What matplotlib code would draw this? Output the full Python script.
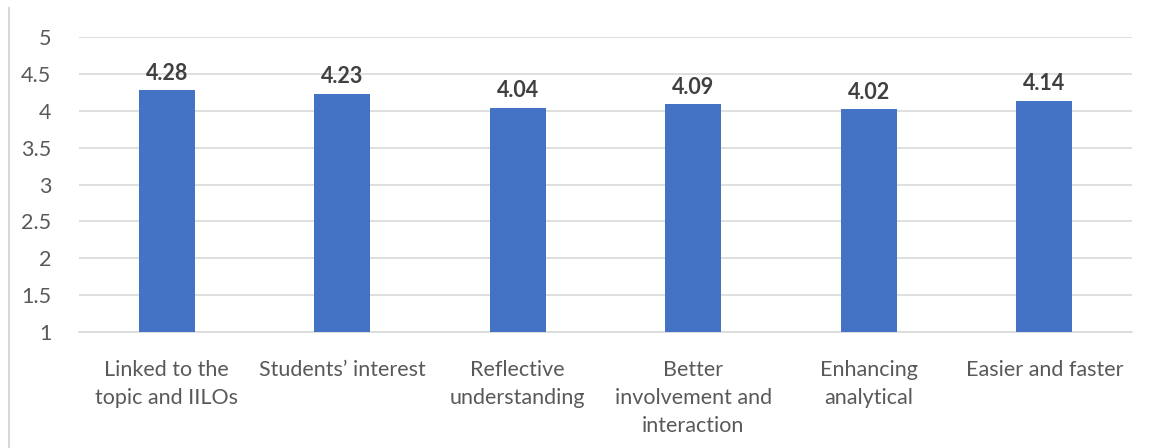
import numpy as np
import matplotlib
matplotlib.use("Agg")
import matplotlib.pyplot as plt
from matplotlib.lines import Line2D

categories = ["Linked to the\ntopic and IILOs", "Students\u2019 interest",
              "Reflective\nunderstanding", "Better\ninvolvement and\ninteraction",
              "Enhancing\nanalytical", "Easier and faster"]
scores = [4.28, 4.23, 4.04, 4.09, 4.02, 4.14]
y_ticks = [1, 1.5, 2, 2.5, 3, 3.5, 4, 4.5, 5]
y_tick_labels = ["1", "1.5", "2", "2.5", "3", "3.5", "4", "4.5", "5"]

plt.rcParams["font.family"] = ["Lato", "DejaVu Sans"]

fig = plt.figure(figsize=(11.51, 4.48), dpi=100)
ax = fig.add_axes([0.0686, 0.259, 0.9149, 0.658])

x = np.arange(len(categories))
ax.bar(x, np.array(scores) - 1, width=0.32, bottom=1, color="#4472c4", zorder=3)
for xi, v in zip(x, scores):
    ax.text(xi, v + 0.09, f"{v:.2f}", ha="center", va="bottom",
            fontsize=15.5, fontweight="bold", color="#404040")

ax.set_xlim(-0.5, len(categories) - 0.5)
ax.set_ylim(1, 5)
ax.set_yticks(y_ticks)
ax.set_yticklabels(y_tick_labels)
ax.set_xticks(x)
ax.set_xticklabels(categories, linespacing=1.5)
ax.tick_params(axis="both", length=0, labelsize=15.5, labelcolor="#595959")
ax.tick_params(axis="y", pad=20)
ax.tick_params(axis="x", pad=20)
ax.yaxis.grid(True, color="#d9d9d9", lw=1.2, zorder=0)
for s in ["top", "right", "left"]:
    ax.spines[s].set_visible(False)
ax.spines["bottom"].set_color("#d9d9d9")
ax.spines["bottom"].set_linewidth(1.2)

# outer chart border, only the left edge shows
fig.add_artist(Line2D([9 / 1151, 9 / 1151], [0, 1 - 8 / 448],
                      transform=fig.transFigure, color="#d9d9d9", lw=1.5))

fig.savefig("out.png", dpi=100)
